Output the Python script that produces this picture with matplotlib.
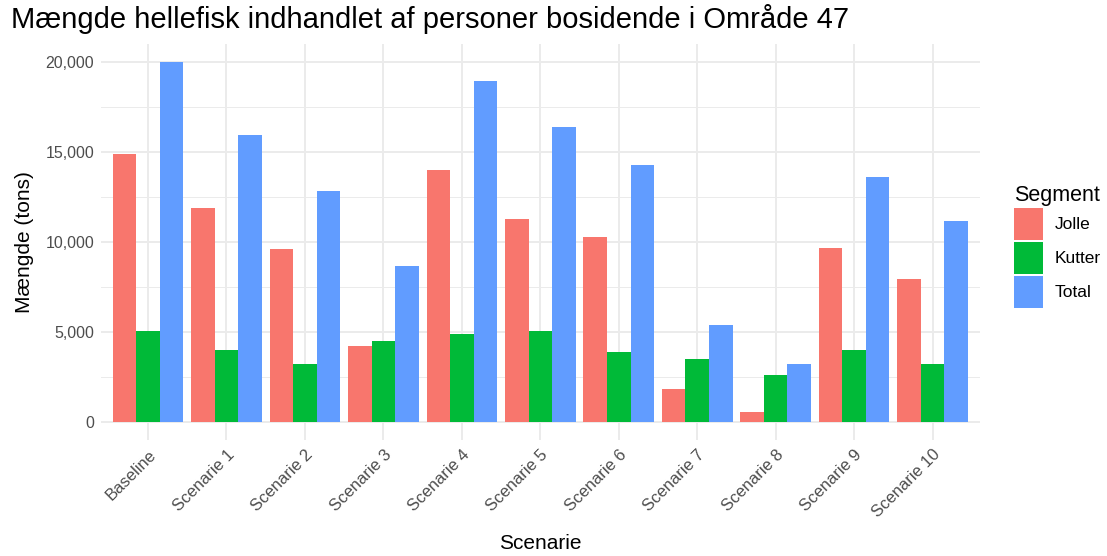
import matplotlib
matplotlib.use("Agg")
import matplotlib.pyplot as plt
import numpy as np
from matplotlib.ticker import FuncFormatter, MultipleLocator
from matplotlib.patches import Patch

plt.rcParams['font.family'] = ['Liberation Sans', 'DejaVu Sans']

categories = ["Baseline", "Scenarie 1", "Scenarie 2", "Scenarie 3", "Scenarie 4", "Scenarie 5",
              "Scenarie 6", "Scenarie 7", "Scenarie 8", "Scenarie 9", "Scenarie 10"]
jolle = [14900, 11900, 9600, 4200, 14000, 11300, 10300, 1850, 570, 9650, 7960]
kutter = [5040, 4020, 3240, 4480, 4910, 5040, 3910, 3480, 2590, 3980, 3200]
total = [19980, 15960, 12850, 8690, 18960, 16390, 14260, 5370, 3200, 13630, 11190]
segments = ["Jolle", "Kutter", "Total"]
colors = ["#F8766D", "#00BA38", "#619CFF"]

fig = plt.figure(figsize=(11.07, 5.56), dpi=100)
ax = fig.add_axes([0.0912, 0.2086, 0.7938, 0.7123])

x = np.arange(1, len(categories) + 1)
w = 0.3
for i, (vals, c) in enumerate(zip([jolle, kutter, total], colors)):
    ax.bar(x + (i - 1) * w, vals, width=w, color=c, linewidth=0, zorder=3)

ax.set_xlim(0.4, len(categories) + 0.6)
ax.set_ylim(-1000, 21000)
ax.yaxis.set_major_locator(MultipleLocator(5000))
ax.yaxis.set_minor_locator(MultipleLocator(2500))
ax.yaxis.set_major_formatter(FuncFormatter(lambda v, p: f"{int(v):,}"))
ax.set_xticks(x)
ax.set_xticklabels(categories, rotation=45, ha="right", va="top", rotation_mode="anchor")

for s in ax.spines.values():
    s.set_visible(False)
ax.grid(which="major", color="#EBEBEB", linewidth=1.4, zorder=0)
ax.grid(which="minor", axis="y", color="#EBEBEB", linewidth=0.7, zorder=0)
ax.set_axisbelow(True)
ax.tick_params(which="both", length=0)
ax.tick_params(axis="y", labelsize=11.5, labelcolor="#4D4D4D", pad=5)
ax.tick_params(axis="x", labelsize=12, labelcolor="#4D4D4D", pad=5)

ax.set_xlabel("Scenarie", fontsize=15, color="black", labelpad=10)
ax.set_ylabel("Mængde (tons)", fontsize=15, color="black", labelpad=8)
fig.text(0.010, 0.966, "Mængde hellefisk indhandlet af personer bosidende i Område 47",
         fontsize=21, color="black", ha="left", va="center")

handles = [Patch(facecolor=c, edgecolor="none") for c in colors]
leg = fig.legend(handles, segments, title="Segment", loc="upper left",
                 bbox_to_anchor=(0.902, 0.695), frameon=False, fontsize=12.5,
                 title_fontsize=15.5, handlelength=1.65, handleheight=2.45,
                 handletextpad=0.7, labelspacing=0.11)
leg._legend_box.align = "left"

fig.savefig("out.png", dpi=100)
